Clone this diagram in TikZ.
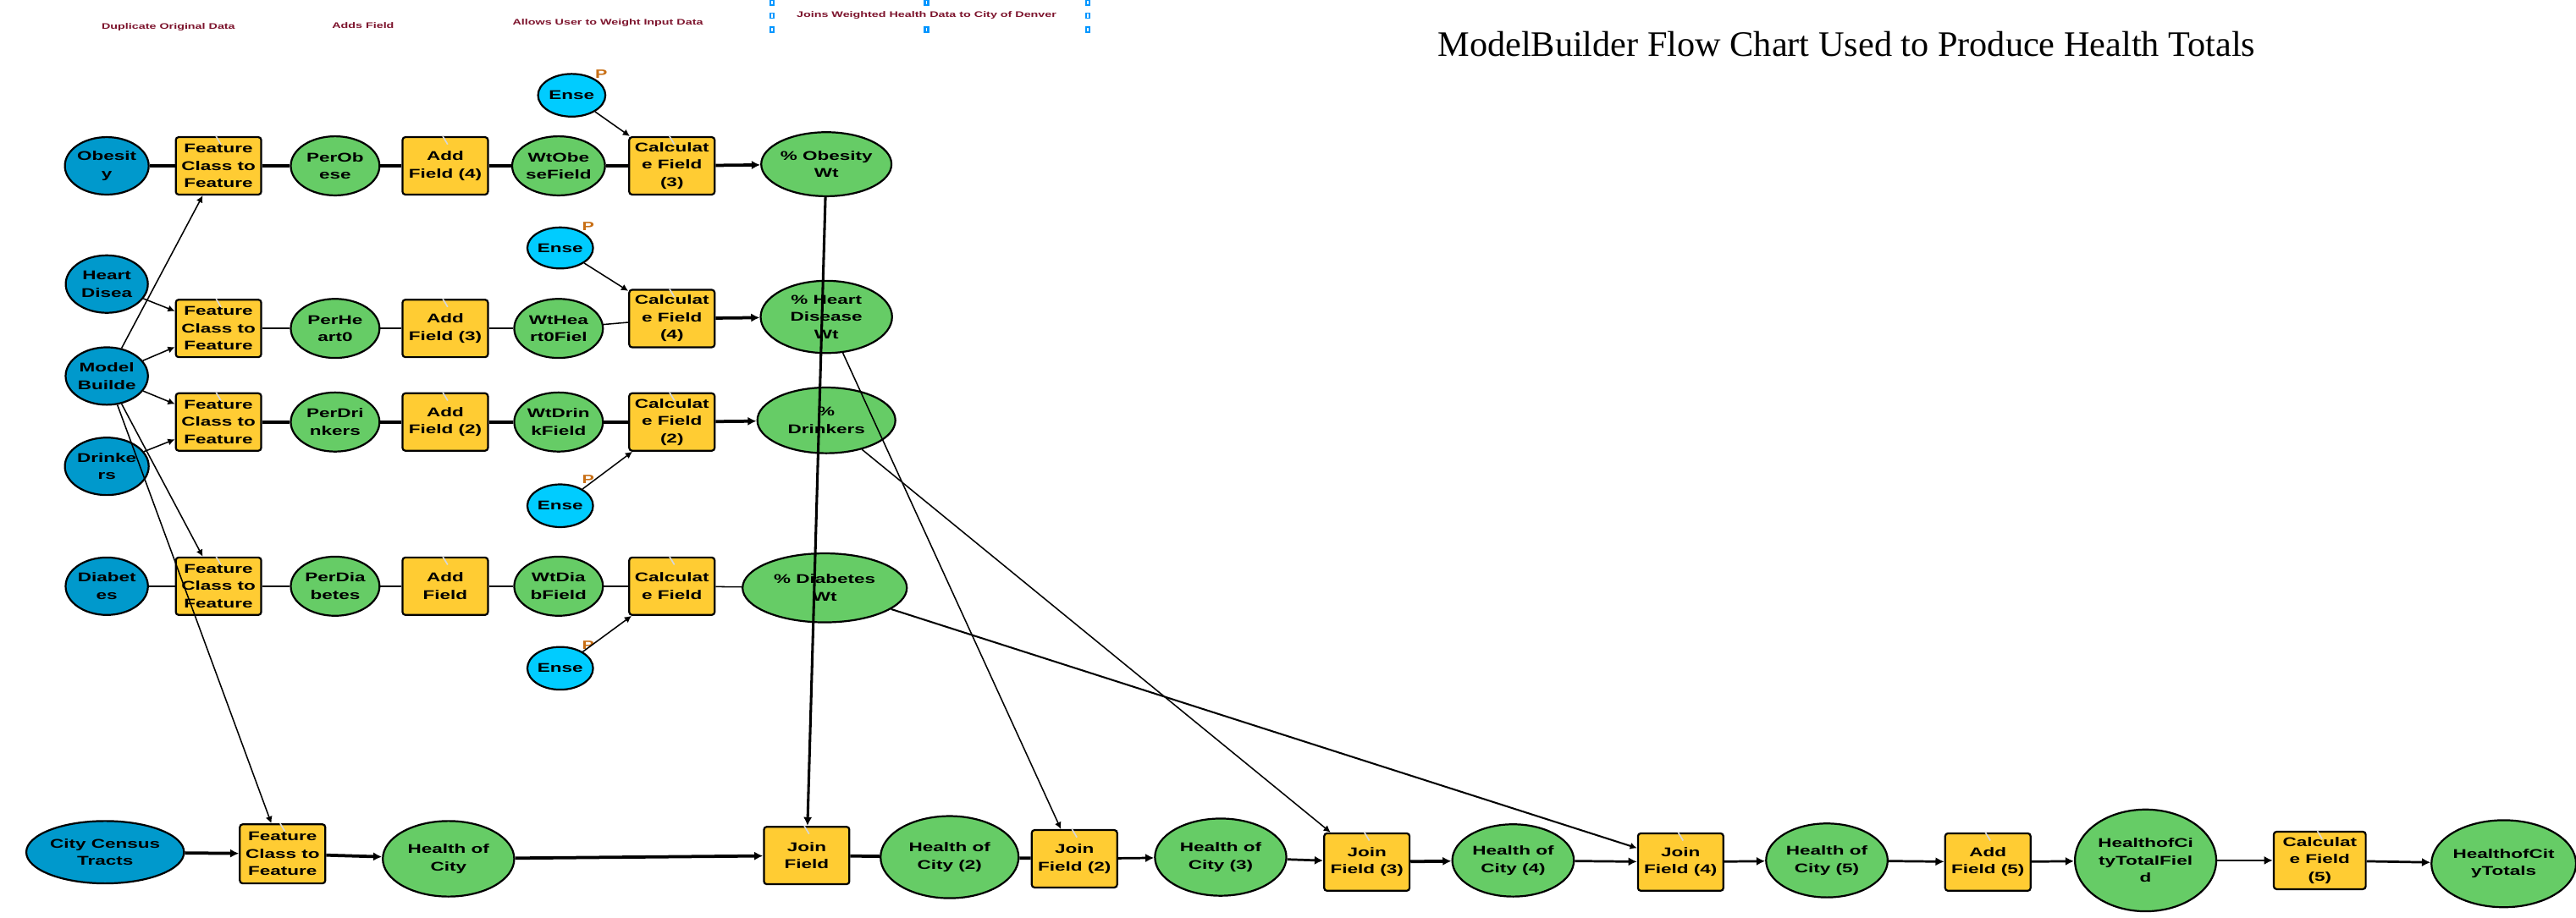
\documentclass[tikz,border=0pt]{standalone}
\usepackage{fontspec}
\setmainfont{Liberation Serif}
\newfontfamily\nf[FakeStretch=1.5]{Liberation Sans}
\usetikzlibrary{shapes.geometric,arrows.meta}
\definecolor{inblue}{RGB}{0,153,204}
\definecolor{encyan}{RGB}{0,204,255}
\definecolor{dgreen}{RGB}{102,204,102}
\definecolor{tyellow}{RGB}{255,204,51}
\definecolor{lblred}{RGB}{125,20,45}
\definecolor{pmark}{RGB}{200,110,20}
\definecolor{hblue}{RGB}{0,150,255}
\definecolor{markgray}{RGB}{215,215,215}
\begin{document}
\begin{tikzpicture}[x=0.02cm,y=-0.02cm,
  every node/.style={font=\nf\bfseries\fontsize{4.4}{6}\selectfont, align=center, inner sep=0pt},
  sz/.style 2 args={minimum width=#1*0.02cm, minimum height=#2*0.02cm},
  bordered/.style={draw=black, line width=0.65pt},
  inpnode/.style={bordered, ellipse, fill=inblue, sz={50}{35}},
  ensenode/.style={bordered, ellipse, fill=encyan, sz={41}{26}},
  datnode/.style={bordered, ellipse, fill=dgreen, sz={54}{36}},
  toolnode/.style={bordered, rectangle, rounded corners=1pt, fill=tyellow, sz={52}{35}},
  toplabel/.style={font=\nf\bfseries\fontsize{2.8}{3.4}\selectfont, text=lblred},
  pnode/.style={font=\nf\bfseries\fontsize{4.2}{5}\selectfont, text=pmark},
  thickc/.style={line width=1.1pt},
  medc/.style={line width=0.8pt},
  thinc/.style={line width=0.45pt},
  arr/.style={-{Latex[length=3pt,width=3pt]}},
  sarr/.style={-{Latex[length=2.4pt,width=2.4pt]}}
]
\fill[white] (0,0) rectangle (1568,559);
\useasboundingbox (0,0) rectangle (1568,559);

% title and top labels
\node[font=\rmfamily\fontsize{12.4}{14}\selectfont, anchor=base] (title) at (1124,34.5) {ModelBuilder Flow Chart Used to Produce Health Totals};
\node[toplabel] (lab1) at (102.5,16.5) {Duplicate Original Data};
\node[toplabel] (lab2) at (221,15.5) {Adds Field};
\node[toplabel] (lab3) at (370,14) {Allows User to Weight Input Data};
\node[toplabel] (lab4) at (564,9.5) {Joins Weighted Health Data to City of Denver};
\foreach \hx/\hy in {470/1.5, 564/1.5, 662/1.5, 470/9.5, 662/9.5, 470/18, 564/18, 662/18}{
  \fill[hblue] (\hx-1.6,\hy-2) rectangle (\hx+1.6,\hy+2);
  \fill[white] (\hx-0.45,\hy-1.1) rectangle (\hx+0.45,\hy+1.1);
}

% inputs
\node[inpnode] (obes) at (65,101) {Obesit\\y};
\node[inpnode] (heart) at (65,173) {Heart\\Disea};
\node[inpnode] (mb) at (65,229) {Model\\Builde};
\node[inpnode] (drink) at (65,284) {Drinke\\rs};
\node[inpnode] (diab) at (65,357) {Diabet\\es};
\node[inpnode, sz={96}{38}] (city) at (64,519) {City Census\\Tracts};

% row 1
\node[toolnode] (fc1) at (133,101) {Feature\\Class to\\Feature};
\node[datnode] (per1) at (204,101) {PerOb\\ese};
\node[toolnode] (add4) at (271,101) {Add\\Field (4)};
\node[datnode] (wt1) at (340,101) {WtObe\\seField};
\node[toolnode] (calc3) at (409,101) {Calculat\\e Field\\(3)};
\node[datnode, sz={76}{39}] (pob) at (503,100) {\% Obesity\\Wt};
\node[ensenode] (ense1) at (348,58) {Ense};
\node[pnode] (p1) at (366,45) {P};

% row 2
\node[toolnode] (fc2) at (133,200) {Feature\\Class to\\Feature};
\node[datnode] (per2) at (204,200) {PerHe\\art0};
\node[toolnode] (add3) at (271,200) {Add\\Field (3)};
\node[datnode] (wt2) at (340,200) {WtHea\\rt0Fiel};
\node[toolnode] (calc4) at (409,194) {Calculat\\e Field\\(4)};
\node[datnode, sz={80}{44}] (phd) at (503,193) {\% Heart\\Disease\\Wt};
\node[ensenode, sz={40}{25}] (ense2) at (341,151) {Ense};
\node[pnode] (p2) at (358,138) {P};

% row 3
\node[toolnode] (fc3) at (133,257) {Feature\\Class to\\Feature};
\node[datnode] (per3) at (204,257) {PerDri\\nkers};
\node[toolnode] (add2) at (271,257) {Add\\Field (2)};
\node[datnode] (wt3) at (340,257) {WtDrin\\kField};
\node[toolnode] (calc2) at (409,257) {Calculat\\e Field\\(2)};
\node[datnode, sz={84}{40}] (pdr) at (503,256) {\%\\Drinkers};
\node[ensenode, sz={40}{26}] (ense3) at (341,308) {Ense};
\node[pnode] (p3) at (358,292) {P};

% row 4
\node[toolnode] (fc4) at (133,357) {Feature\\Class to\\Feature};
\node[datnode] (per4) at (204,357) {PerDia\\betes};
\node[toolnode] (add1) at (271,357) {Add\\Field};
\node[datnode] (wt4) at (340,357) {WtDia\\bField};
\node[toolnode] (calc1) at (409,357) {Calculat\\e Field};
\node[datnode, sz={100}{42}] (pdb) at (502,358) {\% Diabetes\\Wt};
\node[ensenode, sz={40}{26}] (ense4) at (341,407) {Ense};
\node[pnode] (p4) at (358,393) {P};

% bottom row
\node[toolnode, sz={52}{36}] (fc5) at (172,520) {Feature\\Class to\\Feature};
\node[datnode, sz={80}{46}] (hc1) at (273,523) {Health of\\City};
\node[toolnode] (jf1) at (491,521) {Join\\Field};
\node[datnode, sz={84}{50}] (hc2) at (578,522) {Health of\\City (2)};
\node[toolnode] (jf2) at (654,523) {Join\\Field (2)};
\node[datnode, sz={80}{47}] (hc3) at (743,522) {Health of\\City (3)};
\node[toolnode] (jf3) at (832,525) {Join\\Field (3)};
\node[datnode, sz={74}{44}] (hc4) at (921,524) {Health of\\City (4)};
\node[toolnode] (jf4) at (1023,525) {Join\\Field (4)};
\node[datnode, sz={74}{45}] (hc5) at (1112,524) {Health of\\City (5)};
\node[toolnode] (add5) at (1210,525) {Add\\Field (5)};
\node[datnode, sz={86}{62}] (totf) at (1306,524) {HealthofCi\\tyTotalFiel\\d};
\node[toolnode, sz={56}{35}] (calc5) at (1412,524) {Calculat\\e Field\\(5)};
\node[datnode, sz={88}{53}] (tots) at (1524,526) {HealthofCit\\yTotals};

% tool markers
\foreach \b in {fc1,fc2,fc3,fc4,fc5,add1,add2,add3,add4,add5,calc1,calc2,calc3,calc4,calc5,jf1,jf2,jf3,jf4}{
  \draw[markgray, line width=0.5pt] ([xshift=-0.03cm]\b.north) -- ([xshift=0.03cm, yshift=-0.1cm]\b.north);
}

% row 1 connectors
\draw[thickc] (obes) -- (fc1);
\draw[thickc] (fc1) -- (per1);
\draw[thickc] (per1) -- (add4);
\draw[thickc] (add4) -- (wt1);
\draw[thickc] (wt1) -- (calc3);
\draw[thickc, arr] (calc3) -- (pob);
\draw[thinc, sarr] (ense1) -- (calc3);

% row 2 connectors
\draw[thinc, sarr] (heart) -- (fc2);
\draw[thinc] (fc2) -- (per2);
\draw[thinc] (per2) -- (add3);
\draw[thinc] (add3) -- (wt2);
\draw[thinc] (wt2) -- (calc4);
\draw[thickc, arr] (calc4) -- (phd);
\draw[thinc, sarr] (ense2) -- (calc4);

% row 3 connectors
\draw[thinc, sarr] (drink) -- (fc3);
\draw[thickc] (fc3) -- (per3);
\draw[thickc] (per3) -- (add2);
\draw[thickc] (add2) -- (wt3);
\draw[thickc] (wt3) -- (calc2);
\draw[thickc, arr] (calc2) -- (pdr);
\draw[thinc, sarr] (ense3) -- (calc2);

% row 4 connectors
\draw[thinc] (diab) -- (fc4);
\draw[thinc] (fc4) -- (per4);
\draw[thinc] (per4) -- (add1);
\draw[thinc] (add1) -- (wt4);
\draw[thinc] (wt4) -- (calc1);
\draw[thinc] (calc1) -- (pdb);
\draw[thinc, sarr] (ense4) -- (calc1);

% model builder fan-out
\draw[thinc, sarr] (mb) -- (fc1);
\draw[thinc, sarr] (mb) -- (fc2);
\draw[thinc, sarr] (mb) -- (fc3);
\draw[thinc, sarr] (mb) -- (fc4);
\draw[thinc, sarr] (mb) -- (fc5);

% weighted outputs to joins
\draw[line width=0.9pt, arr] (pob) -- (jf1);
\draw[thinc, sarr] (phd) -- (jf2);
\draw[thinc, sarr] (pdr) -- (jf3);
\draw[line width=0.6pt, sarr] (pdb) -- (jf4);

% bottom chain
\draw[thickc, arr] (city) -- (fc5);
\draw[thickc, arr] (fc5) -- (hc1);
\draw[thickc, arr] (hc1) -- (jf1);
\draw[thickc] (jf1) -- (hc2);
\draw[thickc] (hc2) -- (jf2);
\draw[medc, arr] (jf2) -- (hc3);
\draw[medc, arr] (hc3) -- (jf3);
\draw[thickc, arr] (jf3) -- (hc4);
\draw[medc, arr] (hc4) -- (jf4);
\draw[medc, arr] (jf4) -- (hc5);
\draw[medc, arr] (hc5) -- (add5);
\draw[medc, arr] (add5) -- (totf);
\draw[medc, arr] (totf) -- (calc5);
\draw[medc, arr] (calc5) -- (tots);
\end{tikzpicture}
\end{document}
